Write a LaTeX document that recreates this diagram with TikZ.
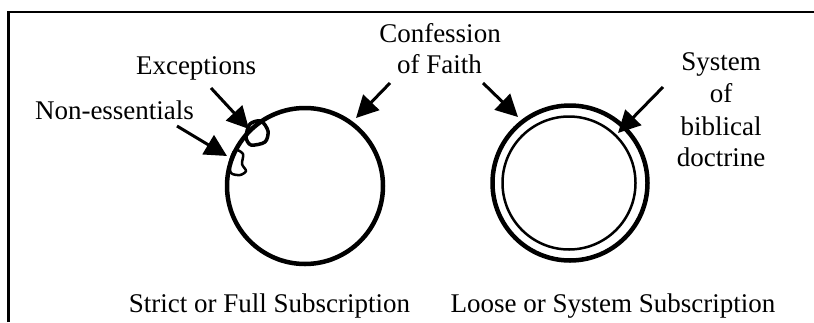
\documentclass[tikz,border=0pt]{standalone}
\usepackage{fontspec}
\setmainfont{Liberation Serif}
\usetikzlibrary{arrows.meta}
\begin{document}
\begin{tikzpicture}[x=1pt,y=-1pt,
  lbl/.style={anchor=base,inner sep=0pt,font=\fontsize{27}{32}\selectfont},
  bigring/.style={draw,line width=4.5pt},
  thinring/.style={draw,line width=2.5pt},
  ptr/.style={line width=3pt,-{Triangle[length=22pt,width=22pt]}},
  blobA/.style={line width=3.5pt,line join=round},
  blobB/.style={line width=2.5pt,line join=round}]
\useasboundingbox (0,0) rectangle (814,322);
% frame
\draw[line width=2.5pt] (8.5,322) -- (8.5,12) -- (814,12);
% circles
\draw[bigring] (305,186) circle[radius=78];
\draw[bigring] (570,183) circle[radius=77.5];
\draw[thinring] (569,183) circle[radius=66.5];
% blobs
\draw[blobA] plot[smooth cycle] coordinates {(250,124) (261,121) (268,131) (265,142) (251,145) (246,137)};
\draw[blobB] plot[smooth cycle] coordinates {(235,150) (243,154) (242,164) (246,171) (240,175) (231,173) (230,162)};
% labels
\node[lbl] (conf1) at (440,42) {Confession};
\node[lbl] (conf2) at (439.5,73) {of Faith};
\node[lbl] (exc) at (196,74) {Exceptions};
\node[lbl] (nonE) at (114.5,119) {Non-essentials};
\node[lbl] (sys1) at (721,70) {System};
\node[lbl] (sys2) at (721,102) {of};
\node[lbl] (sys3) at (721,135) {biblical};
\node[lbl] (sys4) at (721,166) {doctrine};
\node[lbl] (strict) at (269.5,312) {Strict or Full Subscription};
\node[lbl] (loose) at (613,312) {Loose or System Subscription};
% arrow ends
\coordinate (cfLs) at (390,83);
\coordinate (cfLt) at (356,118);
\coordinate (cfRs) at (483,83);
\coordinate (cfRt) at (518,117);
\coordinate (exS) at (211,88);
\coordinate (exT) at (249,129);
\coordinate (neS) at (177,126);
\coordinate (neT) at (227,156);
\coordinate (syS) at (663,87);
\coordinate (syT) at (618,133);
\draw[ptr] (cfLs) -- (cfLt);
\draw[ptr] (cfRs) -- (cfRt);
\draw[ptr] (exS) -- (exT);
\draw[ptr] (neS) -- (neT);
\draw[ptr] (syS) -- (syT);
\end{tikzpicture}
\end{document}
